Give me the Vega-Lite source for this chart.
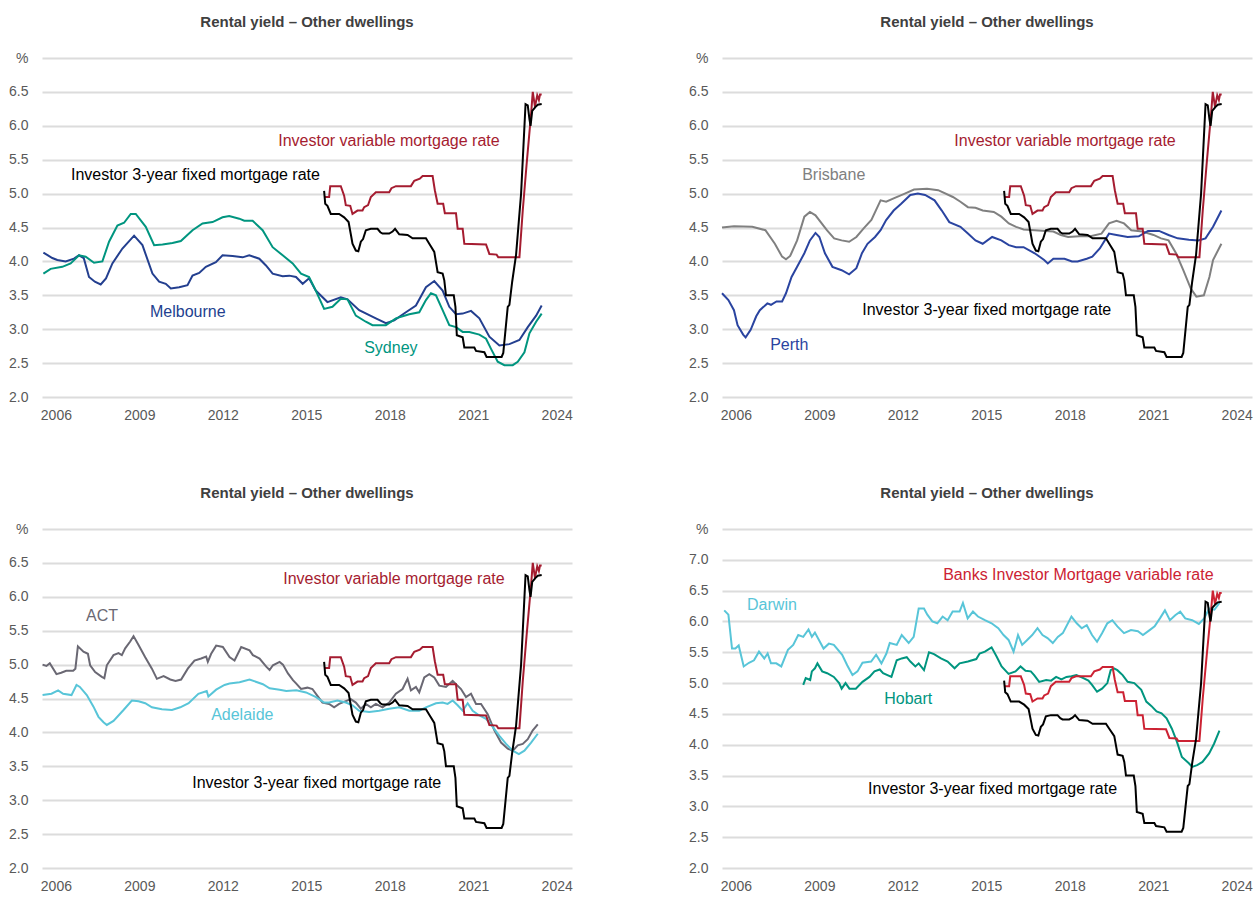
{
  "$schema": "https://vega.github.io/schema/vega-lite/v6.json",
  "background": "white",
  "padding": {"left": 8, "top": 15, "right": 0, "bottom": 0},
  "columns": 2,
  "spacing": {"row": 64, "column": 115},
  "resolve": {"scale": {"color": "independent"}},
  "config": {
    "view": {"stroke": null},
    "font": "Liberation Sans",
    "axis": {"labelFont": "Liberation Sans", "labelFontSize": 14, "labelColor": "#595959", "domain": false, "ticks": false, "gridColor": "#dcdcdc", "gridWidth": 2, "title": null},
    "axisY": {"labelPadding": 14},
    "axisX": {"labelPadding": 11, "grid": false, "labelFlush": false},
    "title": {"font": "Liberation Sans", "fontSize": 15, "fontWeight": "bold", "color": "#404040", "offset": 21, "frame": "group"},
    "text": {"font": "Liberation Sans", "fontSize": 16},
    "line": {"strokeWidth": 2}
  },
  "datasets": {
    "rates": [
      {"series": "var", "year": 2015.64, "value": 4.95},
      {"series": "var", "year": 2015.82, "value": 4.95},
      {"series": "var", "year": 2015.86, "value": 5.11},
      {"series": "var", "year": 2016.24, "value": 5.11},
      {"series": "var", "year": 2016.36, "value": 4.97},
      {"series": "var", "year": 2016.42, "value": 4.83},
      {"series": "var", "year": 2016.58, "value": 4.82},
      {"series": "var", "year": 2016.66, "value": 4.70},
      {"series": "var", "year": 2016.84, "value": 4.75},
      {"series": "var", "year": 2017.02, "value": 4.75},
      {"series": "var", "year": 2017.08, "value": 4.80},
      {"series": "var", "year": 2017.22, "value": 4.83},
      {"series": "var", "year": 2017.32, "value": 4.95},
      {"series": "var", "year": 2017.50, "value": 5.02},
      {"series": "var", "year": 2017.98, "value": 5.02},
      {"series": "var", "year": 2018.06, "value": 5.08},
      {"series": "var", "year": 2018.22, "value": 5.11},
      {"series": "var", "year": 2018.76, "value": 5.11},
      {"series": "var", "year": 2018.88, "value": 5.19},
      {"series": "var", "year": 2019.08, "value": 5.22},
      {"series": "var", "year": 2019.18, "value": 5.26},
      {"series": "var", "year": 2019.54, "value": 5.26},
      {"series": "var", "year": 2019.62, "value": 5.05},
      {"series": "var", "year": 2019.72, "value": 4.85},
      {"series": "var", "year": 2019.92, "value": 4.85},
      {"series": "var", "year": 2019.98, "value": 4.71},
      {"series": "var", "year": 2020.38, "value": 4.71},
      {"series": "var", "year": 2020.44, "value": 4.48},
      {"series": "var", "year": 2020.62, "value": 4.48},
      {"series": "var", "year": 2020.68, "value": 4.26},
      {"series": "var", "year": 2021.46, "value": 4.25},
      {"series": "var", "year": 2021.58, "value": 4.11},
      {"series": "var", "year": 2021.84, "value": 4.10},
      {"series": "var", "year": 2021.90, "value": 4.06},
      {"series": "var", "year": 2022.66, "value": 4.06},
      {"series": "var", "year": 2022.78, "value": 4.75},
      {"series": "var", "year": 2022.92, "value": 5.44},
      {"series": "var", "year": 2023.08, "value": 6.18},
      {"series": "var", "year": 2023.14, "value": 6.50},
      {"series": "var", "year": 2023.22, "value": 6.28},
      {"series": "var", "year": 2023.30, "value": 6.45},
      {"series": "var", "year": 2023.36, "value": 6.38},
      {"series": "var", "year": 2023.40, "value": 6.46},
      {"series": "var", "year": 2023.46, "value": 6.46},
      {"series": "fix", "year": 2015.64, "value": 5.04},
      {"series": "fix", "year": 2015.68, "value": 4.85},
      {"series": "fix", "year": 2015.76, "value": 4.82},
      {"series": "fix", "year": 2015.88, "value": 4.70},
      {"series": "fix", "year": 2016.18, "value": 4.70},
      {"series": "fix", "year": 2016.36, "value": 4.65},
      {"series": "fix", "year": 2016.52, "value": 4.58},
      {"series": "fix", "year": 2016.60, "value": 4.40},
      {"series": "fix", "year": 2016.66, "value": 4.26},
      {"series": "fix", "year": 2016.78, "value": 4.16},
      {"series": "fix", "year": 2016.87, "value": 4.15},
      {"series": "fix", "year": 2016.96, "value": 4.29},
      {"series": "fix", "year": 2017.04, "value": 4.33},
      {"series": "fix", "year": 2017.14, "value": 4.46},
      {"series": "fix", "year": 2017.32, "value": 4.48},
      {"series": "fix", "year": 2017.56, "value": 4.48},
      {"series": "fix", "year": 2017.66, "value": 4.43},
      {"series": "fix", "year": 2017.74, "value": 4.41},
      {"series": "fix", "year": 2017.98, "value": 4.41},
      {"series": "fix", "year": 2018.10, "value": 4.44},
      {"series": "fix", "year": 2018.19, "value": 4.48},
      {"series": "fix", "year": 2018.34, "value": 4.40},
      {"series": "fix", "year": 2018.64, "value": 4.39},
      {"series": "fix", "year": 2018.82, "value": 4.34},
      {"series": "fix", "year": 2019.30, "value": 4.34},
      {"series": "fix", "year": 2019.42, "value": 4.26},
      {"series": "fix", "year": 2019.60, "value": 4.14},
      {"series": "fix", "year": 2019.72, "value": 3.84},
      {"series": "fix", "year": 2019.90, "value": 3.82},
      {"series": "fix", "year": 2019.96, "value": 3.72},
      {"series": "fix", "year": 2020.02, "value": 3.50},
      {"series": "fix", "year": 2020.30, "value": 3.50},
      {"series": "fix", "year": 2020.36, "value": 3.33},
      {"series": "fix", "year": 2020.41, "value": 2.91},
      {"series": "fix", "year": 2020.62, "value": 2.88},
      {"series": "fix", "year": 2020.68, "value": 2.73},
      {"series": "fix", "year": 2021.04, "value": 2.73},
      {"series": "fix", "year": 2021.10, "value": 2.68},
      {"series": "fix", "year": 2021.40, "value": 2.66},
      {"series": "fix", "year": 2021.48, "value": 2.59},
      {"series": "fix", "year": 2022.02, "value": 2.59},
      {"series": "fix", "year": 2022.08, "value": 2.65},
      {"series": "fix", "year": 2022.24, "value": 3.33},
      {"series": "fix", "year": 2022.30, "value": 3.36},
      {"series": "fix", "year": 2022.40, "value": 3.70},
      {"series": "fix", "year": 2022.54, "value": 4.10},
      {"series": "fix", "year": 2022.72, "value": 5.00},
      {"series": "fix", "year": 2022.88, "value": 6.32},
      {"series": "fix", "year": 2022.96, "value": 6.30},
      {"series": "fix", "year": 2023.02, "value": 6.10},
      {"series": "fix", "year": 2023.06, "value": 6.00},
      {"series": "fix", "year": 2023.12, "value": 6.22},
      {"series": "fix", "year": 2023.24, "value": 6.28},
      {"series": "fix", "year": 2023.32, "value": 6.31},
      {"series": "fix", "year": 2023.46, "value": 6.32}
    ],
    "cities": [
      {"panel": 1, "series": "Melbourne", "year": 2005.55, "value": 4.13},
      {"panel": 1, "series": "Melbourne", "year": 2005.87, "value": 4.05},
      {"panel": 1, "series": "Melbourne", "year": 2006.05, "value": 4.02},
      {"panel": 1, "series": "Melbourne", "year": 2006.35, "value": 4.00},
      {"panel": 1, "series": "Melbourne", "year": 2006.65, "value": 4.04},
      {"panel": 1, "series": "Melbourne", "year": 2006.83, "value": 4.09},
      {"panel": 1, "series": "Melbourne", "year": 2007.00, "value": 4.05},
      {"panel": 1, "series": "Melbourne", "year": 2007.19, "value": 3.77},
      {"panel": 1, "series": "Melbourne", "year": 2007.40, "value": 3.70},
      {"panel": 1, "series": "Melbourne", "year": 2007.61, "value": 3.66},
      {"panel": 1, "series": "Melbourne", "year": 2007.80, "value": 3.75},
      {"panel": 1, "series": "Melbourne", "year": 2008.03, "value": 3.97},
      {"panel": 1, "series": "Melbourne", "year": 2008.39, "value": 4.19},
      {"panel": 1, "series": "Melbourne", "year": 2008.81, "value": 4.38},
      {"panel": 1, "series": "Melbourne", "year": 2009.11, "value": 4.24},
      {"panel": 1, "series": "Melbourne", "year": 2009.47, "value": 3.82},
      {"panel": 1, "series": "Melbourne", "year": 2009.71, "value": 3.70},
      {"panel": 1, "series": "Melbourne", "year": 2009.95, "value": 3.67},
      {"panel": 1, "series": "Melbourne", "year": 2010.13, "value": 3.60},
      {"panel": 1, "series": "Melbourne", "year": 2010.43, "value": 3.62},
      {"panel": 1, "series": "Melbourne", "year": 2010.73, "value": 3.65},
      {"panel": 1, "series": "Melbourne", "year": 2010.91, "value": 3.79},
      {"panel": 1, "series": "Melbourne", "year": 2011.15, "value": 3.83},
      {"panel": 1, "series": "Melbourne", "year": 2011.39, "value": 3.92},
      {"panel": 1, "series": "Melbourne", "year": 2011.75, "value": 3.99},
      {"panel": 1, "series": "Melbourne", "year": 2011.99, "value": 4.09},
      {"panel": 1, "series": "Melbourne", "year": 2012.35, "value": 4.08},
      {"panel": 1, "series": "Melbourne", "year": 2012.71, "value": 4.06},
      {"panel": 1, "series": "Melbourne", "year": 2012.95, "value": 4.09},
      {"panel": 1, "series": "Melbourne", "year": 2013.31, "value": 4.04},
      {"panel": 1, "series": "Melbourne", "year": 2013.55, "value": 3.94},
      {"panel": 1, "series": "Melbourne", "year": 2013.79, "value": 3.82},
      {"panel": 1, "series": "Melbourne", "year": 2014.15, "value": 3.78},
      {"panel": 1, "series": "Melbourne", "year": 2014.39, "value": 3.79},
      {"panel": 1, "series": "Melbourne", "year": 2014.63, "value": 3.77},
      {"panel": 1, "series": "Melbourne", "year": 2014.87, "value": 3.67},
      {"panel": 1, "series": "Melbourne", "year": 2015.10, "value": 3.75},
      {"panel": 1, "series": "Melbourne", "year": 2015.34, "value": 3.57},
      {"panel": 1, "series": "Melbourne", "year": 2015.76, "value": 3.40},
      {"panel": 1, "series": "Melbourne", "year": 2016.24, "value": 3.47},
      {"panel": 1, "series": "Melbourne", "year": 2016.48, "value": 3.44},
      {"panel": 1, "series": "Melbourne", "year": 2016.90, "value": 3.28},
      {"panel": 1, "series": "Melbourne", "year": 2017.50, "value": 3.16},
      {"panel": 1, "series": "Melbourne", "year": 2017.86, "value": 3.09},
      {"panel": 1, "series": "Melbourne", "year": 2018.16, "value": 3.13},
      {"panel": 1, "series": "Melbourne", "year": 2018.58, "value": 3.25},
      {"panel": 1, "series": "Melbourne", "year": 2018.94, "value": 3.35},
      {"panel": 1, "series": "Melbourne", "year": 2019.30, "value": 3.62},
      {"panel": 1, "series": "Melbourne", "year": 2019.60, "value": 3.71},
      {"panel": 1, "series": "Melbourne", "year": 2019.90, "value": 3.57},
      {"panel": 1, "series": "Melbourne", "year": 2020.14, "value": 3.33},
      {"panel": 1, "series": "Melbourne", "year": 2020.38, "value": 3.22},
      {"panel": 1, "series": "Melbourne", "year": 2020.62, "value": 3.23},
      {"panel": 1, "series": "Melbourne", "year": 2020.92, "value": 3.27},
      {"panel": 1, "series": "Melbourne", "year": 2021.22, "value": 3.16},
      {"panel": 1, "series": "Melbourne", "year": 2021.58, "value": 2.89},
      {"panel": 1, "series": "Melbourne", "year": 2021.94, "value": 2.76},
      {"panel": 1, "series": "Melbourne", "year": 2022.30, "value": 2.78},
      {"panel": 1, "series": "Melbourne", "year": 2022.66, "value": 2.84},
      {"panel": 1, "series": "Melbourne", "year": 2022.96, "value": 3.03},
      {"panel": 1, "series": "Melbourne", "year": 2023.26, "value": 3.20},
      {"panel": 1, "series": "Melbourne", "year": 2023.46, "value": 3.35},
      {"panel": 1, "series": "Sydney", "year": 2005.55, "value": 3.82},
      {"panel": 1, "series": "Sydney", "year": 2005.81, "value": 3.89},
      {"panel": 1, "series": "Sydney", "year": 2006.23, "value": 3.92},
      {"panel": 1, "series": "Sydney", "year": 2006.53, "value": 3.97},
      {"panel": 1, "series": "Sydney", "year": 2006.83, "value": 4.09},
      {"panel": 1, "series": "Sydney", "year": 2007.07, "value": 4.07},
      {"panel": 1, "series": "Sydney", "year": 2007.37, "value": 3.98},
      {"panel": 1, "series": "Sydney", "year": 2007.67, "value": 4.00},
      {"panel": 1, "series": "Sydney", "year": 2007.91, "value": 4.29},
      {"panel": 1, "series": "Sydney", "year": 2008.21, "value": 4.53},
      {"panel": 1, "series": "Sydney", "year": 2008.45, "value": 4.57},
      {"panel": 1, "series": "Sydney", "year": 2008.69, "value": 4.70},
      {"panel": 1, "series": "Sydney", "year": 2008.87, "value": 4.70},
      {"panel": 1, "series": "Sydney", "year": 2009.23, "value": 4.51},
      {"panel": 1, "series": "Sydney", "year": 2009.53, "value": 4.24},
      {"panel": 1, "series": "Sydney", "year": 2009.83, "value": 4.25},
      {"panel": 1, "series": "Sydney", "year": 2010.19, "value": 4.27},
      {"panel": 1, "series": "Sydney", "year": 2010.49, "value": 4.30},
      {"panel": 1, "series": "Sydney", "year": 2010.91, "value": 4.46},
      {"panel": 1, "series": "Sydney", "year": 2011.27, "value": 4.56},
      {"panel": 1, "series": "Sydney", "year": 2011.63, "value": 4.58},
      {"panel": 1, "series": "Sydney", "year": 2011.99, "value": 4.65},
      {"panel": 1, "series": "Sydney", "year": 2012.23, "value": 4.67},
      {"panel": 1, "series": "Sydney", "year": 2012.59, "value": 4.63},
      {"panel": 1, "series": "Sydney", "year": 2012.77, "value": 4.60},
      {"panel": 1, "series": "Sydney", "year": 2013.07, "value": 4.60},
      {"panel": 1, "series": "Sydney", "year": 2013.43, "value": 4.46},
      {"panel": 1, "series": "Sydney", "year": 2013.79, "value": 4.21},
      {"panel": 1, "series": "Sydney", "year": 2014.15, "value": 4.09},
      {"panel": 1, "series": "Sydney", "year": 2014.51, "value": 3.97},
      {"panel": 1, "series": "Sydney", "year": 2014.81, "value": 3.82},
      {"panel": 1, "series": "Sydney", "year": 2015.10, "value": 3.77},
      {"panel": 1, "series": "Sydney", "year": 2015.34, "value": 3.57},
      {"panel": 1, "series": "Sydney", "year": 2015.64, "value": 3.30},
      {"panel": 1, "series": "Sydney", "year": 2015.94, "value": 3.33},
      {"panel": 1, "series": "Sydney", "year": 2016.24, "value": 3.45},
      {"panel": 1, "series": "Sydney", "year": 2016.48, "value": 3.44},
      {"panel": 1, "series": "Sydney", "year": 2016.78, "value": 3.20},
      {"panel": 1, "series": "Sydney", "year": 2017.14, "value": 3.11},
      {"panel": 1, "series": "Sydney", "year": 2017.38, "value": 3.06},
      {"panel": 1, "series": "Sydney", "year": 2017.86, "value": 3.06},
      {"panel": 1, "series": "Sydney", "year": 2018.22, "value": 3.16},
      {"panel": 1, "series": "Sydney", "year": 2018.70, "value": 3.22},
      {"panel": 1, "series": "Sydney", "year": 2019.06, "value": 3.25},
      {"panel": 1, "series": "Sydney", "year": 2019.30, "value": 3.43},
      {"panel": 1, "series": "Sydney", "year": 2019.48, "value": 3.53},
      {"panel": 1, "series": "Sydney", "year": 2019.66, "value": 3.50},
      {"panel": 1, "series": "Sydney", "year": 2019.90, "value": 3.28},
      {"panel": 1, "series": "Sydney", "year": 2020.14, "value": 3.06},
      {"panel": 1, "series": "Sydney", "year": 2020.38, "value": 3.03},
      {"panel": 1, "series": "Sydney", "year": 2020.62, "value": 2.96},
      {"panel": 1, "series": "Sydney", "year": 2020.86, "value": 2.96},
      {"panel": 1, "series": "Sydney", "year": 2021.22, "value": 2.92},
      {"panel": 1, "series": "Sydney", "year": 2021.46, "value": 2.86},
      {"panel": 1, "series": "Sydney", "year": 2021.64, "value": 2.71},
      {"panel": 1, "series": "Sydney", "year": 2021.88, "value": 2.52},
      {"panel": 1, "series": "Sydney", "year": 2022.12, "value": 2.47},
      {"panel": 1, "series": "Sydney", "year": 2022.42, "value": 2.47},
      {"panel": 1, "series": "Sydney", "year": 2022.60, "value": 2.52},
      {"panel": 1, "series": "Sydney", "year": 2022.84, "value": 2.66},
      {"panel": 1, "series": "Sydney", "year": 2023.02, "value": 2.94},
      {"panel": 1, "series": "Sydney", "year": 2023.26, "value": 3.11},
      {"panel": 1, "series": "Sydney", "year": 2023.46, "value": 3.23},
      {"panel": 2, "series": "Brisbane", "year": 2005.50, "value": 4.50},
      {"panel": 2, "series": "Brisbane", "year": 2005.93, "value": 4.52},
      {"panel": 2, "series": "Brisbane", "year": 2006.59, "value": 4.51},
      {"panel": 2, "series": "Brisbane", "year": 2007.06, "value": 4.46},
      {"panel": 2, "series": "Brisbane", "year": 2007.40, "value": 4.26},
      {"panel": 2, "series": "Brisbane", "year": 2007.66, "value": 4.07},
      {"panel": 2, "series": "Brisbane", "year": 2007.80, "value": 4.03},
      {"panel": 2, "series": "Brisbane", "year": 2007.95, "value": 4.08},
      {"panel": 2, "series": "Brisbane", "year": 2008.20, "value": 4.31},
      {"panel": 2, "series": "Brisbane", "year": 2008.46, "value": 4.66},
      {"panel": 2, "series": "Brisbane", "year": 2008.66, "value": 4.73},
      {"panel": 2, "series": "Brisbane", "year": 2008.86, "value": 4.68},
      {"panel": 2, "series": "Brisbane", "year": 2009.27, "value": 4.46},
      {"panel": 2, "series": "Brisbane", "year": 2009.53, "value": 4.34},
      {"panel": 2, "series": "Brisbane", "year": 2009.80, "value": 4.31},
      {"panel": 2, "series": "Brisbane", "year": 2010.07, "value": 4.29},
      {"panel": 2, "series": "Brisbane", "year": 2010.33, "value": 4.36},
      {"panel": 2, "series": "Brisbane", "year": 2010.60, "value": 4.49},
      {"panel": 2, "series": "Brisbane", "year": 2010.87, "value": 4.61},
      {"panel": 2, "series": "Brisbane", "year": 2011.20, "value": 4.90},
      {"panel": 2, "series": "Brisbane", "year": 2011.40, "value": 4.88},
      {"panel": 2, "series": "Brisbane", "year": 2011.67, "value": 4.93},
      {"panel": 2, "series": "Brisbane", "year": 2012.07, "value": 5.00},
      {"panel": 2, "series": "Brisbane", "year": 2012.40, "value": 5.06},
      {"panel": 2, "series": "Brisbane", "year": 2012.87, "value": 5.07},
      {"panel": 2, "series": "Brisbane", "year": 2013.27, "value": 5.05},
      {"panel": 2, "series": "Brisbane", "year": 2013.80, "value": 4.95},
      {"panel": 2, "series": "Brisbane", "year": 2014.07, "value": 4.88},
      {"panel": 2, "series": "Brisbane", "year": 2014.34, "value": 4.80},
      {"panel": 2, "series": "Brisbane", "year": 2014.61, "value": 4.79},
      {"panel": 2, "series": "Brisbane", "year": 2014.87, "value": 4.75},
      {"panel": 2, "series": "Brisbane", "year": 2015.27, "value": 4.73},
      {"panel": 2, "series": "Brisbane", "year": 2015.54, "value": 4.66},
      {"panel": 2, "series": "Brisbane", "year": 2015.81, "value": 4.56},
      {"panel": 2, "series": "Brisbane", "year": 2016.07, "value": 4.51},
      {"panel": 2, "series": "Brisbane", "year": 2016.34, "value": 4.47},
      {"panel": 2, "series": "Brisbane", "year": 2016.74, "value": 4.46},
      {"panel": 2, "series": "Brisbane", "year": 2017.14, "value": 4.45},
      {"panel": 2, "series": "Brisbane", "year": 2017.41, "value": 4.44},
      {"panel": 2, "series": "Brisbane", "year": 2017.68, "value": 4.39},
      {"panel": 2, "series": "Brisbane", "year": 2017.94, "value": 4.36},
      {"panel": 2, "series": "Brisbane", "year": 2018.34, "value": 4.37},
      {"panel": 2, "series": "Brisbane", "year": 2018.74, "value": 4.37},
      {"panel": 2, "series": "Brisbane", "year": 2019.14, "value": 4.41},
      {"panel": 2, "series": "Brisbane", "year": 2019.41, "value": 4.56},
      {"panel": 2, "series": "Brisbane", "year": 2019.68, "value": 4.60},
      {"panel": 2, "series": "Brisbane", "year": 2019.95, "value": 4.56},
      {"panel": 2, "series": "Brisbane", "year": 2020.21, "value": 4.46},
      {"panel": 2, "series": "Brisbane", "year": 2020.61, "value": 4.44},
      {"panel": 2, "series": "Brisbane", "year": 2021.01, "value": 4.39},
      {"panel": 2, "series": "Brisbane", "year": 2021.28, "value": 4.34},
      {"panel": 2, "series": "Brisbane", "year": 2021.55, "value": 4.31},
      {"panel": 2, "series": "Brisbane", "year": 2021.82, "value": 4.12},
      {"panel": 2, "series": "Brisbane", "year": 2022.08, "value": 3.87},
      {"panel": 2, "series": "Brisbane", "year": 2022.35, "value": 3.60},
      {"panel": 2, "series": "Brisbane", "year": 2022.55, "value": 3.48},
      {"panel": 2, "series": "Brisbane", "year": 2022.82, "value": 3.50},
      {"panel": 2, "series": "Brisbane", "year": 2023.02, "value": 3.77},
      {"panel": 2, "series": "Brisbane", "year": 2023.15, "value": 4.02},
      {"panel": 2, "series": "Brisbane", "year": 2023.45, "value": 4.26},
      {"panel": 2, "series": "Perth", "year": 2005.50, "value": 3.53},
      {"panel": 2, "series": "Perth", "year": 2005.73, "value": 3.43},
      {"panel": 2, "series": "Perth", "year": 2005.93, "value": 3.28},
      {"panel": 2, "series": "Perth", "year": 2006.06, "value": 3.06},
      {"panel": 2, "series": "Perth", "year": 2006.26, "value": 2.92},
      {"panel": 2, "series": "Perth", "year": 2006.35, "value": 2.88},
      {"panel": 2, "series": "Perth", "year": 2006.53, "value": 2.99},
      {"panel": 2, "series": "Perth", "year": 2006.73, "value": 3.19},
      {"panel": 2, "series": "Perth", "year": 2006.86, "value": 3.28},
      {"panel": 2, "series": "Perth", "year": 2007.13, "value": 3.38},
      {"panel": 2, "series": "Perth", "year": 2007.26, "value": 3.36},
      {"panel": 2, "series": "Perth", "year": 2007.46, "value": 3.41},
      {"panel": 2, "series": "Perth", "year": 2007.66, "value": 3.41},
      {"panel": 2, "series": "Perth", "year": 2007.80, "value": 3.53},
      {"panel": 2, "series": "Perth", "year": 2008.00, "value": 3.77},
      {"panel": 2, "series": "Perth", "year": 2008.20, "value": 3.92},
      {"panel": 2, "series": "Perth", "year": 2008.46, "value": 4.12},
      {"panel": 2, "series": "Perth", "year": 2008.66, "value": 4.31},
      {"panel": 2, "series": "Perth", "year": 2008.86, "value": 4.42},
      {"panel": 2, "series": "Perth", "year": 2009.00, "value": 4.36},
      {"panel": 2, "series": "Perth", "year": 2009.20, "value": 4.12},
      {"panel": 2, "series": "Perth", "year": 2009.47, "value": 3.92},
      {"panel": 2, "series": "Perth", "year": 2009.80, "value": 3.87},
      {"panel": 2, "series": "Perth", "year": 2010.07, "value": 3.81},
      {"panel": 2, "series": "Perth", "year": 2010.33, "value": 3.90},
      {"panel": 2, "series": "Perth", "year": 2010.53, "value": 4.12},
      {"panel": 2, "series": "Perth", "year": 2010.73, "value": 4.26},
      {"panel": 2, "series": "Perth", "year": 2011.00, "value": 4.36},
      {"panel": 2, "series": "Perth", "year": 2011.20, "value": 4.46},
      {"panel": 2, "series": "Perth", "year": 2011.40, "value": 4.61},
      {"panel": 2, "series": "Perth", "year": 2011.67, "value": 4.75},
      {"panel": 2, "series": "Perth", "year": 2011.94, "value": 4.85},
      {"panel": 2, "series": "Perth", "year": 2012.27, "value": 4.98},
      {"panel": 2, "series": "Perth", "year": 2012.54, "value": 5.00},
      {"panel": 2, "series": "Perth", "year": 2012.80, "value": 4.98},
      {"panel": 2, "series": "Perth", "year": 2013.14, "value": 4.90},
      {"panel": 2, "series": "Perth", "year": 2013.40, "value": 4.75},
      {"panel": 2, "series": "Perth", "year": 2013.67, "value": 4.58},
      {"panel": 2, "series": "Perth", "year": 2014.07, "value": 4.51},
      {"panel": 2, "series": "Perth", "year": 2014.34, "value": 4.41},
      {"panel": 2, "series": "Perth", "year": 2014.61, "value": 4.31},
      {"panel": 2, "series": "Perth", "year": 2014.87, "value": 4.26},
      {"panel": 2, "series": "Perth", "year": 2015.21, "value": 4.36},
      {"panel": 2, "series": "Perth", "year": 2015.54, "value": 4.31},
      {"panel": 2, "series": "Perth", "year": 2015.81, "value": 4.24},
      {"panel": 2, "series": "Perth", "year": 2016.07, "value": 4.21},
      {"panel": 2, "series": "Perth", "year": 2016.34, "value": 4.21},
      {"panel": 2, "series": "Perth", "year": 2016.74, "value": 4.12},
      {"panel": 2, "series": "Perth", "year": 2017.08, "value": 4.02},
      {"panel": 2, "series": "Perth", "year": 2017.21, "value": 3.97},
      {"panel": 2, "series": "Perth", "year": 2017.41, "value": 4.04},
      {"panel": 2, "series": "Perth", "year": 2017.81, "value": 4.04},
      {"panel": 2, "series": "Perth", "year": 2018.08, "value": 4.00},
      {"panel": 2, "series": "Perth", "year": 2018.28, "value": 4.00},
      {"panel": 2, "series": "Perth", "year": 2018.61, "value": 4.04},
      {"panel": 2, "series": "Perth", "year": 2018.81, "value": 4.07},
      {"panel": 2, "series": "Perth", "year": 2019.08, "value": 4.19},
      {"panel": 2, "series": "Perth", "year": 2019.41, "value": 4.41},
      {"panel": 2, "series": "Perth", "year": 2019.68, "value": 4.39},
      {"panel": 2, "series": "Perth", "year": 2020.08, "value": 4.36},
      {"panel": 2, "series": "Perth", "year": 2020.48, "value": 4.37},
      {"panel": 2, "series": "Perth", "year": 2020.81, "value": 4.45},
      {"panel": 2, "series": "Perth", "year": 2021.21, "value": 4.45},
      {"panel": 2, "series": "Perth", "year": 2021.55, "value": 4.39},
      {"panel": 2, "series": "Perth", "year": 2021.88, "value": 4.34},
      {"panel": 2, "series": "Perth", "year": 2022.28, "value": 4.32},
      {"panel": 2, "series": "Perth", "year": 2022.62, "value": 4.31},
      {"panel": 2, "series": "Perth", "year": 2022.88, "value": 4.34},
      {"panel": 2, "series": "Perth", "year": 2023.15, "value": 4.51},
      {"panel": 2, "series": "Perth", "year": 2023.45, "value": 4.75},
      {"panel": 3, "series": "ACT", "year": 2005.52, "value": 5.00},
      {"panel": 3, "series": "ACT", "year": 2005.66, "value": 4.98},
      {"panel": 3, "series": "ACT", "year": 2005.78, "value": 5.02},
      {"panel": 3, "series": "ACT", "year": 2006.02, "value": 4.86},
      {"panel": 3, "series": "ACT", "year": 2006.19, "value": 4.88},
      {"panel": 3, "series": "ACT", "year": 2006.37, "value": 4.91},
      {"panel": 3, "series": "ACT", "year": 2006.62, "value": 4.91},
      {"panel": 3, "series": "ACT", "year": 2006.70, "value": 4.94},
      {"panel": 3, "series": "ACT", "year": 2006.79, "value": 5.27},
      {"panel": 3, "series": "ACT", "year": 2006.99, "value": 5.19},
      {"panel": 3, "series": "ACT", "year": 2007.15, "value": 5.16},
      {"panel": 3, "series": "ACT", "year": 2007.23, "value": 4.99},
      {"panel": 3, "series": "ACT", "year": 2007.41, "value": 4.89},
      {"panel": 3, "series": "ACT", "year": 2007.65, "value": 4.82},
      {"panel": 3, "series": "ACT", "year": 2007.74, "value": 4.80},
      {"panel": 3, "series": "ACT", "year": 2007.83, "value": 4.99},
      {"panel": 3, "series": "ACT", "year": 2008.07, "value": 5.14},
      {"panel": 3, "series": "ACT", "year": 2008.25, "value": 5.17},
      {"panel": 3, "series": "ACT", "year": 2008.37, "value": 5.14},
      {"panel": 3, "series": "ACT", "year": 2008.49, "value": 5.24},
      {"panel": 3, "series": "ACT", "year": 2008.67, "value": 5.34},
      {"panel": 3, "series": "ACT", "year": 2008.79, "value": 5.42},
      {"panel": 3, "series": "ACT", "year": 2008.97, "value": 5.29},
      {"panel": 3, "series": "ACT", "year": 2009.21, "value": 5.11},
      {"panel": 3, "series": "ACT", "year": 2009.45, "value": 4.94},
      {"panel": 3, "series": "ACT", "year": 2009.63, "value": 4.79},
      {"panel": 3, "series": "ACT", "year": 2009.87, "value": 4.83},
      {"panel": 3, "series": "ACT", "year": 2010.11, "value": 4.78},
      {"panel": 3, "series": "ACT", "year": 2010.30, "value": 4.76},
      {"panel": 3, "series": "ACT", "year": 2010.50, "value": 4.78},
      {"panel": 3, "series": "ACT", "year": 2010.74, "value": 4.94},
      {"panel": 3, "series": "ACT", "year": 2010.98, "value": 5.06},
      {"panel": 3, "series": "ACT", "year": 2011.22, "value": 5.09},
      {"panel": 3, "series": "ACT", "year": 2011.40, "value": 5.12},
      {"panel": 3, "series": "ACT", "year": 2011.46, "value": 5.04},
      {"panel": 3, "series": "ACT", "year": 2011.58, "value": 5.16},
      {"panel": 3, "series": "ACT", "year": 2011.76, "value": 5.28},
      {"panel": 3, "series": "ACT", "year": 2012.00, "value": 5.26},
      {"panel": 3, "series": "ACT", "year": 2012.24, "value": 5.11},
      {"panel": 3, "series": "ACT", "year": 2012.42, "value": 5.06},
      {"panel": 3, "series": "ACT", "year": 2012.66, "value": 5.26},
      {"panel": 3, "series": "ACT", "year": 2012.96, "value": 5.21},
      {"panel": 3, "series": "ACT", "year": 2013.08, "value": 5.14},
      {"panel": 3, "series": "ACT", "year": 2013.32, "value": 5.09},
      {"panel": 3, "series": "ACT", "year": 2013.56, "value": 4.97},
      {"panel": 3, "series": "ACT", "year": 2013.68, "value": 4.92},
      {"panel": 3, "series": "ACT", "year": 2013.80, "value": 4.99},
      {"panel": 3, "series": "ACT", "year": 2014.04, "value": 5.04},
      {"panel": 3, "series": "ACT", "year": 2014.16, "value": 5.00},
      {"panel": 3, "series": "ACT", "year": 2014.34, "value": 4.87},
      {"panel": 3, "series": "ACT", "year": 2014.52, "value": 4.77},
      {"panel": 3, "series": "ACT", "year": 2014.64, "value": 4.72},
      {"panel": 3, "series": "ACT", "year": 2014.81, "value": 4.64},
      {"panel": 3, "series": "ACT", "year": 2015.04, "value": 4.66},
      {"panel": 3, "series": "ACT", "year": 2015.22, "value": 4.64},
      {"panel": 3, "series": "ACT", "year": 2015.40, "value": 4.54},
      {"panel": 3, "series": "ACT", "year": 2015.58, "value": 4.44},
      {"panel": 3, "series": "ACT", "year": 2015.82, "value": 4.42},
      {"panel": 3, "series": "ACT", "year": 2016.00, "value": 4.37},
      {"panel": 3, "series": "ACT", "year": 2016.18, "value": 4.42},
      {"panel": 3, "series": "ACT", "year": 2016.60, "value": 4.49},
      {"panel": 3, "series": "ACT", "year": 2016.78, "value": 4.44},
      {"panel": 3, "series": "ACT", "year": 2016.96, "value": 4.35},
      {"panel": 3, "series": "ACT", "year": 2017.14, "value": 4.42},
      {"panel": 3, "series": "ACT", "year": 2017.32, "value": 4.37},
      {"panel": 3, "series": "ACT", "year": 2017.50, "value": 4.42},
      {"panel": 3, "series": "ACT", "year": 2017.74, "value": 4.37},
      {"panel": 3, "series": "ACT", "year": 2017.98, "value": 4.44},
      {"panel": 3, "series": "ACT", "year": 2018.22, "value": 4.57},
      {"panel": 3, "series": "ACT", "year": 2018.46, "value": 4.64},
      {"panel": 3, "series": "ACT", "year": 2018.64, "value": 4.79},
      {"panel": 3, "series": "ACT", "year": 2018.76, "value": 4.62},
      {"panel": 3, "series": "ACT", "year": 2018.94, "value": 4.67},
      {"panel": 3, "series": "ACT", "year": 2019.06, "value": 4.59},
      {"panel": 3, "series": "ACT", "year": 2019.24, "value": 4.81},
      {"panel": 3, "series": "ACT", "year": 2019.42, "value": 4.86},
      {"panel": 3, "series": "ACT", "year": 2019.60, "value": 4.81},
      {"panel": 3, "series": "ACT", "year": 2019.78, "value": 4.69},
      {"panel": 3, "series": "ACT", "year": 2020.02, "value": 4.67},
      {"panel": 3, "series": "ACT", "year": 2020.26, "value": 4.76},
      {"panel": 3, "series": "ACT", "year": 2020.56, "value": 4.64},
      {"panel": 3, "series": "ACT", "year": 2020.74, "value": 4.52},
      {"panel": 3, "series": "ACT", "year": 2020.92, "value": 4.57},
      {"panel": 3, "series": "ACT", "year": 2021.10, "value": 4.42},
      {"panel": 3, "series": "ACT", "year": 2021.28, "value": 4.42},
      {"panel": 3, "series": "ACT", "year": 2021.52, "value": 4.27},
      {"panel": 3, "series": "ACT", "year": 2021.76, "value": 4.03},
      {"panel": 3, "series": "ACT", "year": 2022.00, "value": 3.85},
      {"panel": 3, "series": "ACT", "year": 2022.24, "value": 3.76},
      {"panel": 3, "series": "ACT", "year": 2022.42, "value": 3.73},
      {"panel": 3, "series": "ACT", "year": 2022.60, "value": 3.81},
      {"panel": 3, "series": "ACT", "year": 2022.78, "value": 3.83},
      {"panel": 3, "series": "ACT", "year": 2022.96, "value": 3.90},
      {"panel": 3, "series": "ACT", "year": 2023.14, "value": 4.03},
      {"panel": 3, "series": "ACT", "year": 2023.32, "value": 4.12},
      {"panel": 3, "series": "Adelaide", "year": 2005.52, "value": 4.55},
      {"panel": 3, "series": "Adelaide", "year": 2005.84, "value": 4.57},
      {"panel": 3, "series": "Adelaide", "year": 2006.08, "value": 4.62},
      {"panel": 3, "series": "Adelaide", "year": 2006.26, "value": 4.57},
      {"panel": 3, "series": "Adelaide", "year": 2006.56, "value": 4.55},
      {"panel": 3, "series": "Adelaide", "year": 2006.74, "value": 4.70},
      {"panel": 3, "series": "Adelaide", "year": 2006.86, "value": 4.67},
      {"panel": 3, "series": "Adelaide", "year": 2007.11, "value": 4.55},
      {"panel": 3, "series": "Adelaide", "year": 2007.35, "value": 4.38},
      {"panel": 3, "series": "Adelaide", "year": 2007.53, "value": 4.23},
      {"panel": 3, "series": "Adelaide", "year": 2007.71, "value": 4.15},
      {"panel": 3, "series": "Adelaide", "year": 2007.83, "value": 4.11},
      {"panel": 3, "series": "Adelaide", "year": 2008.07, "value": 4.17},
      {"panel": 3, "series": "Adelaide", "year": 2008.43, "value": 4.33},
      {"panel": 3, "series": "Adelaide", "year": 2008.73, "value": 4.47},
      {"panel": 3, "series": "Adelaide", "year": 2008.97, "value": 4.46},
      {"panel": 3, "series": "Adelaide", "year": 2009.21, "value": 4.43},
      {"panel": 3, "series": "Adelaide", "year": 2009.45, "value": 4.37},
      {"panel": 3, "series": "Adelaide", "year": 2009.81, "value": 4.34},
      {"panel": 3, "series": "Adelaide", "year": 2010.17, "value": 4.33},
      {"panel": 3, "series": "Adelaide", "year": 2010.47, "value": 4.37},
      {"panel": 3, "series": "Adelaide", "year": 2010.77, "value": 4.43},
      {"panel": 3, "series": "Adelaide", "year": 2011.12, "value": 4.57},
      {"panel": 3, "series": "Adelaide", "year": 2011.42, "value": 4.61},
      {"panel": 3, "series": "Adelaide", "year": 2011.48, "value": 4.53},
      {"panel": 3, "series": "Adelaide", "year": 2011.76, "value": 4.63},
      {"panel": 3, "series": "Adelaide", "year": 2012.06, "value": 4.70},
      {"panel": 3, "series": "Adelaide", "year": 2012.24, "value": 4.72},
      {"panel": 3, "series": "Adelaide", "year": 2012.60, "value": 4.74},
      {"panel": 3, "series": "Adelaide", "year": 2012.96, "value": 4.78},
      {"panel": 3, "series": "Adelaide", "year": 2013.44, "value": 4.71},
      {"panel": 3, "series": "Adelaide", "year": 2013.68, "value": 4.65},
      {"panel": 3, "series": "Adelaide", "year": 2014.04, "value": 4.63},
      {"panel": 3, "series": "Adelaide", "year": 2014.28, "value": 4.61},
      {"panel": 3, "series": "Adelaide", "year": 2014.64, "value": 4.62},
      {"panel": 3, "series": "Adelaide", "year": 2014.99, "value": 4.59},
      {"panel": 3, "series": "Adelaide", "year": 2015.35, "value": 4.52},
      {"panel": 3, "series": "Adelaide", "year": 2015.64, "value": 4.44},
      {"panel": 3, "series": "Adelaide", "year": 2015.82, "value": 4.44},
      {"panel": 3, "series": "Adelaide", "year": 2016.12, "value": 4.47},
      {"panel": 3, "series": "Adelaide", "year": 2016.42, "value": 4.44},
      {"panel": 3, "series": "Adelaide", "year": 2016.66, "value": 4.40},
      {"panel": 3, "series": "Adelaide", "year": 2016.90, "value": 4.32},
      {"panel": 3, "series": "Adelaide", "year": 2017.26, "value": 4.30},
      {"panel": 3, "series": "Adelaide", "year": 2017.62, "value": 4.32},
      {"panel": 3, "series": "Adelaide", "year": 2017.98, "value": 4.35},
      {"panel": 3, "series": "Adelaide", "year": 2018.34, "value": 4.37},
      {"panel": 3, "series": "Adelaide", "year": 2018.70, "value": 4.32},
      {"panel": 3, "series": "Adelaide", "year": 2019.06, "value": 4.32},
      {"panel": 3, "series": "Adelaide", "year": 2019.30, "value": 4.37},
      {"panel": 3, "series": "Adelaide", "year": 2019.66, "value": 4.43},
      {"panel": 3, "series": "Adelaide", "year": 2019.90, "value": 4.44},
      {"panel": 3, "series": "Adelaide", "year": 2020.08, "value": 4.42},
      {"panel": 3, "series": "Adelaide", "year": 2020.26, "value": 4.47},
      {"panel": 3, "series": "Adelaide", "year": 2020.44, "value": 4.40},
      {"panel": 3, "series": "Adelaide", "year": 2020.62, "value": 4.32},
      {"panel": 3, "series": "Adelaide", "year": 2020.80, "value": 4.43},
      {"panel": 3, "series": "Adelaide", "year": 2020.98, "value": 4.32},
      {"panel": 3, "series": "Adelaide", "year": 2021.22, "value": 4.25},
      {"panel": 3, "series": "Adelaide", "year": 2021.46, "value": 4.20},
      {"panel": 3, "series": "Adelaide", "year": 2021.70, "value": 4.08},
      {"panel": 3, "series": "Adelaide", "year": 2021.94, "value": 3.95},
      {"panel": 3, "series": "Adelaide", "year": 2022.18, "value": 3.83},
      {"panel": 3, "series": "Adelaide", "year": 2022.42, "value": 3.73},
      {"panel": 3, "series": "Adelaide", "year": 2022.64, "value": 3.68},
      {"panel": 3, "series": "Adelaide", "year": 2022.84, "value": 3.73},
      {"panel": 3, "series": "Adelaide", "year": 2023.08, "value": 3.85},
      {"panel": 3, "series": "Adelaide", "year": 2023.32, "value": 3.98},
      {"panel": 4, "series": "Darwin", "year": 2005.58, "value": 6.18},
      {"panel": 4, "series": "Darwin", "year": 2005.73, "value": 6.11},
      {"panel": 4, "series": "Darwin", "year": 2005.86, "value": 5.56},
      {"panel": 4, "series": "Darwin", "year": 2005.98, "value": 5.56},
      {"panel": 4, "series": "Darwin", "year": 2006.10, "value": 5.61},
      {"panel": 4, "series": "Darwin", "year": 2006.28, "value": 5.27},
      {"panel": 4, "series": "Darwin", "year": 2006.47, "value": 5.33},
      {"panel": 4, "series": "Darwin", "year": 2006.65, "value": 5.37},
      {"panel": 4, "series": "Darwin", "year": 2006.83, "value": 5.51},
      {"panel": 4, "series": "Darwin", "year": 2007.02, "value": 5.40},
      {"panel": 4, "series": "Darwin", "year": 2007.14, "value": 5.48},
      {"panel": 4, "series": "Darwin", "year": 2007.26, "value": 5.32},
      {"panel": 4, "series": "Darwin", "year": 2007.45, "value": 5.32},
      {"panel": 4, "series": "Darwin", "year": 2007.63, "value": 5.27},
      {"panel": 4, "series": "Darwin", "year": 2007.87, "value": 5.54},
      {"panel": 4, "series": "Darwin", "year": 2008.06, "value": 5.62},
      {"panel": 4, "series": "Darwin", "year": 2008.24, "value": 5.78},
      {"panel": 4, "series": "Darwin", "year": 2008.42, "value": 5.75},
      {"panel": 4, "series": "Darwin", "year": 2008.61, "value": 5.87},
      {"panel": 4, "series": "Darwin", "year": 2008.73, "value": 5.75},
      {"panel": 4, "series": "Darwin", "year": 2008.84, "value": 5.82},
      {"panel": 4, "series": "Darwin", "year": 2009.15, "value": 5.56},
      {"panel": 4, "series": "Darwin", "year": 2009.34, "value": 5.64},
      {"panel": 4, "series": "Darwin", "year": 2009.52, "value": 5.62},
      {"panel": 4, "series": "Darwin", "year": 2009.82, "value": 5.46},
      {"panel": 4, "series": "Darwin", "year": 2010.00, "value": 5.29},
      {"panel": 4, "series": "Darwin", "year": 2010.19, "value": 5.13},
      {"panel": 4, "series": "Darwin", "year": 2010.37, "value": 5.19},
      {"panel": 4, "series": "Darwin", "year": 2010.55, "value": 5.33},
      {"panel": 4, "series": "Darwin", "year": 2010.86, "value": 5.35},
      {"panel": 4, "series": "Darwin", "year": 2011.04, "value": 5.46},
      {"panel": 4, "series": "Darwin", "year": 2011.23, "value": 5.32},
      {"panel": 4, "series": "Darwin", "year": 2011.41, "value": 5.48},
      {"panel": 4, "series": "Darwin", "year": 2011.53, "value": 5.65},
      {"panel": 4, "series": "Darwin", "year": 2011.78, "value": 5.62},
      {"panel": 4, "series": "Darwin", "year": 2011.96, "value": 5.78},
      {"panel": 4, "series": "Darwin", "year": 2012.21, "value": 5.65},
      {"panel": 4, "series": "Darwin", "year": 2012.39, "value": 5.75},
      {"panel": 4, "series": "Darwin", "year": 2012.57, "value": 6.21},
      {"panel": 4, "series": "Darwin", "year": 2012.76, "value": 6.21},
      {"panel": 4, "series": "Darwin", "year": 2012.88, "value": 6.11},
      {"panel": 4, "series": "Darwin", "year": 2013.06, "value": 6.00},
      {"panel": 4, "series": "Darwin", "year": 2013.24, "value": 5.97},
      {"panel": 4, "series": "Darwin", "year": 2013.43, "value": 6.08},
      {"panel": 4, "series": "Darwin", "year": 2013.61, "value": 6.02},
      {"panel": 4, "series": "Darwin", "year": 2013.79, "value": 6.16},
      {"panel": 4, "series": "Darwin", "year": 2014.04, "value": 6.16},
      {"panel": 4, "series": "Darwin", "year": 2014.16, "value": 6.30},
      {"panel": 4, "series": "Darwin", "year": 2014.33, "value": 6.05},
      {"panel": 4, "series": "Darwin", "year": 2014.52, "value": 6.16},
      {"panel": 4, "series": "Darwin", "year": 2014.70, "value": 6.08},
      {"panel": 4, "series": "Darwin", "year": 2014.95, "value": 6.02},
      {"panel": 4, "series": "Darwin", "year": 2015.19, "value": 5.97},
      {"panel": 4, "series": "Darwin", "year": 2015.43, "value": 5.89},
      {"panel": 4, "series": "Darwin", "year": 2015.62, "value": 5.78},
      {"panel": 4, "series": "Darwin", "year": 2015.80, "value": 5.70},
      {"panel": 4, "series": "Darwin", "year": 2015.98, "value": 5.51},
      {"panel": 4, "series": "Darwin", "year": 2016.14, "value": 5.78},
      {"panel": 4, "series": "Darwin", "year": 2016.29, "value": 5.62},
      {"panel": 4, "series": "Darwin", "year": 2016.47, "value": 5.70},
      {"panel": 4, "series": "Darwin", "year": 2016.65, "value": 5.78},
      {"panel": 4, "series": "Darwin", "year": 2016.84, "value": 5.89},
      {"panel": 4, "series": "Darwin", "year": 2017.02, "value": 5.78},
      {"panel": 4, "series": "Darwin", "year": 2017.20, "value": 5.73},
      {"panel": 4, "series": "Darwin", "year": 2017.39, "value": 5.65},
      {"panel": 4, "series": "Darwin", "year": 2017.57, "value": 5.75},
      {"panel": 4, "series": "Darwin", "year": 2017.75, "value": 5.81},
      {"panel": 4, "series": "Darwin", "year": 2018.06, "value": 6.08},
      {"panel": 4, "series": "Darwin", "year": 2018.25, "value": 5.97},
      {"panel": 4, "series": "Darwin", "year": 2018.43, "value": 5.89},
      {"panel": 4, "series": "Darwin", "year": 2018.61, "value": 5.94},
      {"panel": 4, "series": "Darwin", "year": 2018.80, "value": 5.78},
      {"panel": 4, "series": "Darwin", "year": 2018.98, "value": 5.67},
      {"panel": 4, "series": "Darwin", "year": 2019.16, "value": 5.81},
      {"panel": 4, "series": "Darwin", "year": 2019.35, "value": 5.97},
      {"panel": 4, "series": "Darwin", "year": 2019.53, "value": 6.02},
      {"panel": 4, "series": "Darwin", "year": 2019.71, "value": 5.92},
      {"panel": 4, "series": "Darwin", "year": 2019.95, "value": 5.81},
      {"panel": 4, "series": "Darwin", "year": 2020.20, "value": 5.86},
      {"panel": 4, "series": "Darwin", "year": 2020.45, "value": 5.84},
      {"panel": 4, "series": "Darwin", "year": 2020.63, "value": 5.78},
      {"panel": 4, "series": "Darwin", "year": 2020.87, "value": 5.86},
      {"panel": 4, "series": "Darwin", "year": 2021.05, "value": 5.92},
      {"panel": 4, "series": "Darwin", "year": 2021.24, "value": 6.05},
      {"panel": 4, "series": "Darwin", "year": 2021.42, "value": 6.18},
      {"panel": 4, "series": "Darwin", "year": 2021.60, "value": 6.02},
      {"panel": 4, "series": "Darwin", "year": 2021.79, "value": 6.10},
      {"panel": 4, "series": "Darwin", "year": 2021.97, "value": 6.16},
      {"panel": 4, "series": "Darwin", "year": 2022.15, "value": 6.05},
      {"panel": 4, "series": "Darwin", "year": 2022.40, "value": 6.02},
      {"panel": 4, "series": "Darwin", "year": 2022.64, "value": 5.96},
      {"panel": 4, "series": "Darwin", "year": 2022.83, "value": 6.05},
      {"panel": 4, "series": "Darwin", "year": 2023.01, "value": 6.21},
      {"panel": 4, "series": "Darwin", "year": 2023.20, "value": 6.19},
      {"panel": 4, "series": "Darwin", "year": 2023.38, "value": 6.30},
      {"panel": 4, "series": "Hobart", "year": 2008.42, "value": 4.97},
      {"panel": 4, "series": "Hobart", "year": 2008.51, "value": 5.08},
      {"panel": 4, "series": "Hobart", "year": 2008.67, "value": 5.05},
      {"panel": 4, "series": "Hobart", "year": 2008.73, "value": 5.19},
      {"panel": 4, "series": "Hobart", "year": 2008.84, "value": 5.24},
      {"panel": 4, "series": "Hobart", "year": 2008.93, "value": 5.32},
      {"panel": 4, "series": "Hobart", "year": 2009.10, "value": 5.19},
      {"panel": 4, "series": "Hobart", "year": 2009.28, "value": 5.16},
      {"panel": 4, "series": "Hobart", "year": 2009.52, "value": 5.10},
      {"panel": 4, "series": "Hobart", "year": 2009.71, "value": 5.00},
      {"panel": 4, "series": "Hobart", "year": 2009.80, "value": 4.91},
      {"panel": 4, "series": "Hobart", "year": 2009.94, "value": 5.00},
      {"panel": 4, "series": "Hobart", "year": 2010.08, "value": 4.91},
      {"panel": 4, "series": "Hobart", "year": 2010.31, "value": 4.91},
      {"panel": 4, "series": "Hobart", "year": 2010.55, "value": 5.02},
      {"panel": 4, "series": "Hobart", "year": 2010.80, "value": 5.10},
      {"panel": 4, "series": "Hobart", "year": 2010.98, "value": 5.19},
      {"panel": 4, "series": "Hobart", "year": 2011.17, "value": 5.22},
      {"panel": 4, "series": "Hobart", "year": 2011.29, "value": 5.16},
      {"panel": 4, "series": "Hobart", "year": 2011.59, "value": 5.10},
      {"panel": 4, "series": "Hobart", "year": 2011.78, "value": 5.37},
      {"panel": 4, "series": "Hobart", "year": 2011.96, "value": 5.40},
      {"panel": 4, "series": "Hobart", "year": 2012.14, "value": 5.42},
      {"panel": 4, "series": "Hobart", "year": 2012.27, "value": 5.35},
      {"panel": 4, "series": "Hobart", "year": 2012.45, "value": 5.27},
      {"panel": 4, "series": "Hobart", "year": 2012.57, "value": 5.32},
      {"panel": 4, "series": "Hobart", "year": 2012.76, "value": 5.21},
      {"panel": 4, "series": "Hobart", "year": 2012.94, "value": 5.50},
      {"panel": 4, "series": "Hobart", "year": 2013.12, "value": 5.47},
      {"panel": 4, "series": "Hobart", "year": 2013.37, "value": 5.40},
      {"panel": 4, "series": "Hobart", "year": 2013.61, "value": 5.35},
      {"panel": 4, "series": "Hobart", "year": 2013.86, "value": 5.24},
      {"panel": 4, "series": "Hobart", "year": 2014.04, "value": 5.32},
      {"panel": 4, "series": "Hobart", "year": 2014.34, "value": 5.35},
      {"panel": 4, "series": "Hobart", "year": 2014.64, "value": 5.39},
      {"panel": 4, "series": "Hobart", "year": 2014.76, "value": 5.48},
      {"panel": 4, "series": "Hobart", "year": 2014.95, "value": 5.51},
      {"panel": 4, "series": "Hobart", "year": 2015.19, "value": 5.58},
      {"panel": 4, "series": "Hobart", "year": 2015.37, "value": 5.43},
      {"panel": 4, "series": "Hobart", "year": 2015.55, "value": 5.27},
      {"panel": 4, "series": "Hobart", "year": 2015.80, "value": 5.15},
      {"panel": 4, "series": "Hobart", "year": 2016.05, "value": 5.19},
      {"panel": 4, "series": "Hobart", "year": 2016.23, "value": 5.27},
      {"panel": 4, "series": "Hobart", "year": 2016.41, "value": 5.20},
      {"panel": 4, "series": "Hobart", "year": 2016.60, "value": 5.19},
      {"panel": 4, "series": "Hobart", "year": 2016.72, "value": 5.13},
      {"panel": 4, "series": "Hobart", "year": 2016.90, "value": 5.02},
      {"panel": 4, "series": "Hobart", "year": 2017.15, "value": 5.05},
      {"panel": 4, "series": "Hobart", "year": 2017.33, "value": 5.04},
      {"panel": 4, "series": "Hobart", "year": 2017.51, "value": 5.10},
      {"panel": 4, "series": "Hobart", "year": 2017.70, "value": 5.06},
      {"panel": 4, "series": "Hobart", "year": 2017.88, "value": 5.10},
      {"panel": 4, "series": "Hobart", "year": 2018.06, "value": 5.11},
      {"panel": 4, "series": "Hobart", "year": 2018.24, "value": 5.13},
      {"panel": 4, "series": "Hobart", "year": 2018.49, "value": 5.08},
      {"panel": 4, "series": "Hobart", "year": 2018.67, "value": 5.04},
      {"panel": 4, "series": "Hobart", "year": 2018.80, "value": 4.97},
      {"panel": 4, "series": "Hobart", "year": 2018.98, "value": 4.86},
      {"panel": 4, "series": "Hobart", "year": 2019.16, "value": 4.91},
      {"panel": 4, "series": "Hobart", "year": 2019.35, "value": 5.00},
      {"panel": 4, "series": "Hobart", "year": 2019.47, "value": 5.21},
      {"panel": 4, "series": "Hobart", "year": 2019.59, "value": 5.24},
      {"panel": 4, "series": "Hobart", "year": 2019.71, "value": 5.21},
      {"panel": 4, "series": "Hobart", "year": 2019.90, "value": 5.13},
      {"panel": 4, "series": "Hobart", "year": 2020.08, "value": 5.02},
      {"panel": 4, "series": "Hobart", "year": 2020.32, "value": 5.00},
      {"panel": 4, "series": "Hobart", "year": 2020.57, "value": 4.89},
      {"panel": 4, "series": "Hobart", "year": 2020.75, "value": 4.70},
      {"panel": 4, "series": "Hobart", "year": 2020.93, "value": 4.63},
      {"panel": 4, "series": "Hobart", "year": 2021.12, "value": 4.54},
      {"panel": 4, "series": "Hobart", "year": 2021.30, "value": 4.51},
      {"panel": 4, "series": "Hobart", "year": 2021.48, "value": 4.43},
      {"panel": 4, "series": "Hobart", "year": 2021.67, "value": 4.26},
      {"panel": 4, "series": "Hobart", "year": 2021.85, "value": 4.05},
      {"panel": 4, "series": "Hobart", "year": 2022.03, "value": 3.80},
      {"panel": 4, "series": "Hobart", "year": 2022.28, "value": 3.70},
      {"panel": 4, "series": "Hobart", "year": 2022.40, "value": 3.64},
      {"panel": 4, "series": "Hobart", "year": 2022.58, "value": 3.67},
      {"panel": 4, "series": "Hobart", "year": 2022.77, "value": 3.72},
      {"panel": 4, "series": "Hobart", "year": 2023.01, "value": 3.86},
      {"panel": 4, "series": "Hobart", "year": 2023.19, "value": 4.02},
      {"panel": 4, "series": "Hobart", "year": 2023.38, "value": 4.23}
    ],
    "labels": [
      {"panel": 1, "text": "Investor variable mortgage rate", "series": "var", "year": 2013.99, "value": 5.77},
      {"panel": 1, "text": "Investor 3-year fixed mortgage rate", "series": "fix", "year": 2006.54, "value": 5.27},
      {"panel": 1, "text": "Melbourne", "series": "Melbourne", "year": 2009.38, "value": 3.25},
      {"panel": 1, "text": "Sydney", "series": "Sydney", "year": 2017.08, "value": 2.73},
      {"panel": 2, "text": "Investor variable mortgage rate", "series": "var", "year": 2013.85, "value": 5.77},
      {"panel": 2, "text": "Brisbane", "series": "Brisbane", "year": 2008.38, "value": 5.27},
      {"panel": 2, "text": "Perth", "series": "Perth", "year": 2007.23, "value": 2.76},
      {"panel": 2, "text": "Investor 3-year fixed mortgage rate", "series": "fix", "year": 2010.54, "value": 3.28},
      {"panel": 3, "text": "ACT", "series": "ACT", "year": 2007.08, "value": 5.72},
      {"panel": 3, "text": "Adelaide", "series": "Adelaide", "year": 2011.58, "value": 4.25},
      {"panel": 3, "text": "Investor variable mortgage rate", "series": "var", "year": 2014.17, "value": 6.26},
      {"panel": 3, "text": "Investor 3-year fixed mortgage rate", "series": "fix", "year": 2010.90, "value": 3.25},
      {"panel": 4, "text": "Darwin", "series": "Darwin", "year": 2006.40, "value": 6.27},
      {"panel": 4, "text": "Hobart", "series": "Hobart", "year": 2011.33, "value": 4.74},
      {"panel": 4, "text": "Banks Investor Mortgage variable rate", "series": "var", "year": 2013.45, "value": 6.75},
      {"panel": 4, "text": "Investor 3-year fixed mortgage rate", "series": "fix", "year": 2010.75, "value": 3.28}
    ]
  },
  "concat": [
    {
      "width": 530, "height": 339,
      "title": {"text": "Rental yield – Other dwellings"},
      "encoding": {
        "x": {"field": "year", "type": "quantitative", "scale": {"domain": [2005.5, 2024.55], "nice": false, "zero": false}, "axis": {"values": [2006, 2009, 2012, 2015, 2018, 2021, 2024], "format": "d"}},
        "y": {"field": "value", "type": "quantitative", "scale": {"domain": [2, 7], "nice": false, "zero": false}, "axis": {"values": [2, 2.5, 3, 3.5, 4, 4.5, 5, 5.5, 6, 6.5, 7], "labelExpr": "datum.value == 7 ? '%' : format(datum.value, '.1f')"}},
        "color": {"field": "series", "type": "nominal", "legend": null, "scale": {"domain": ["Melbourne", "Sydney", "var", "fix"], "range": ["#233f8f", "#00957f", "#a51c30", "#000000"]}}
      },
      "layer": [
        {"data": {"name": "cities"}, "transform": [{"filter": "datum.panel == 1"}], "mark": {"type": "line"}},
        {"data": {"name": "rates"}, "mark": {"type": "line"}},
        {"data": {"name": "labels"}, "transform": [{"filter": "datum.panel == 1"}], "mark": {"type": "text", "align": "left", "baseline": "middle"}, "encoding": {"text": {"field": "text"}}}
      ]
    },
    {
      "width": 530, "height": 339,
      "title": {"text": "Rental yield – Other dwellings"},
      "encoding": {
        "x": {"field": "year", "type": "quantitative", "scale": {"domain": [2005.5, 2024.55], "nice": false, "zero": false}, "axis": {"values": [2006, 2009, 2012, 2015, 2018, 2021, 2024], "format": "d"}},
        "y": {"field": "value", "type": "quantitative", "scale": {"domain": [2, 7], "nice": false, "zero": false}, "axis": {"values": [2, 2.5, 3, 3.5, 4, 4.5, 5, 5.5, 6, 6.5, 7], "labelExpr": "datum.value == 7 ? '%' : format(datum.value, '.1f')"}},
        "color": {"field": "series", "type": "nominal", "legend": null, "scale": {"domain": ["Brisbane", "Perth", "var", "fix"], "range": ["#808080", "#2a44a0", "#a51c30", "#000000"]}}
      },
      "layer": [
        {"data": {"name": "cities"}, "transform": [{"filter": "datum.panel == 2"}], "mark": {"type": "line"}},
        {"data": {"name": "rates"}, "mark": {"type": "line"}},
        {"data": {"name": "labels"}, "transform": [{"filter": "datum.panel == 2"}], "mark": {"type": "text", "align": "left", "baseline": "middle"}, "encoding": {"text": {"field": "text"}}}
      ]
    },
    {
      "width": 530, "height": 339,
      "title": {"text": "Rental yield – Other dwellings"},
      "encoding": {
        "x": {"field": "year", "type": "quantitative", "scale": {"domain": [2005.5, 2024.55], "nice": false, "zero": false}, "axis": {"values": [2006, 2009, 2012, 2015, 2018, 2021, 2024], "format": "d"}},
        "y": {"field": "value", "type": "quantitative", "scale": {"domain": [2, 7], "nice": false, "zero": false}, "axis": {"values": [2, 2.5, 3, 3.5, 4, 4.5, 5, 5.5, 6, 6.5, 7], "labelExpr": "datum.value == 7 ? '%' : format(datum.value, '.1f')"}},
        "color": {"field": "series", "type": "nominal", "legend": null, "scale": {"domain": ["ACT", "Adelaide", "var", "fix"], "range": ["#6a6873", "#58c5d8", "#a51c30", "#000000"]}}
      },
      "layer": [
        {"data": {"name": "cities"}, "transform": [{"filter": "datum.panel == 3"}], "mark": {"type": "line"}},
        {"data": {"name": "rates"}, "mark": {"type": "line"}},
        {"data": {"name": "labels"}, "transform": [{"filter": "datum.panel == 3"}], "mark": {"type": "text", "align": "left", "baseline": "middle"}, "encoding": {"text": {"field": "text"}}}
      ]
    },
    {
      "width": 530, "height": 339,
      "title": {"text": "Rental yield – Other dwellings"},
      "encoding": {
        "x": {"field": "year", "type": "quantitative", "scale": {"domain": [2005.5, 2024.55], "nice": false, "zero": false}, "axis": {"values": [2006, 2009, 2012, 2015, 2018, 2021, 2024], "format": "d"}},
        "y": {"field": "value", "type": "quantitative", "scale": {"domain": [2, 7.5], "nice": false, "zero": false}, "axis": {"values": [2, 2.5, 3, 3.5, 4, 4.5, 5, 5.5, 6, 6.5, 7, 7.5], "labelExpr": "datum.value == 7.5 ? '%' : format(datum.value, '.1f')"}},
        "color": {"field": "series", "type": "nominal", "legend": null, "scale": {"domain": ["Darwin", "Hobart", "var", "fix"], "range": ["#58c5d8", "#00957f", "#cc2233", "#000000"]}}
      },
      "layer": [
        {"data": {"name": "cities"}, "transform": [{"filter": "datum.panel == 4"}], "mark": {"type": "line"}},
        {"data": {"name": "rates"}, "mark": {"type": "line"}},
        {"data": {"name": "labels"}, "transform": [{"filter": "datum.panel == 4"}], "mark": {"type": "text", "align": "left", "baseline": "middle"}, "encoding": {"text": {"field": "text"}}}
      ]
    }
  ]
}
